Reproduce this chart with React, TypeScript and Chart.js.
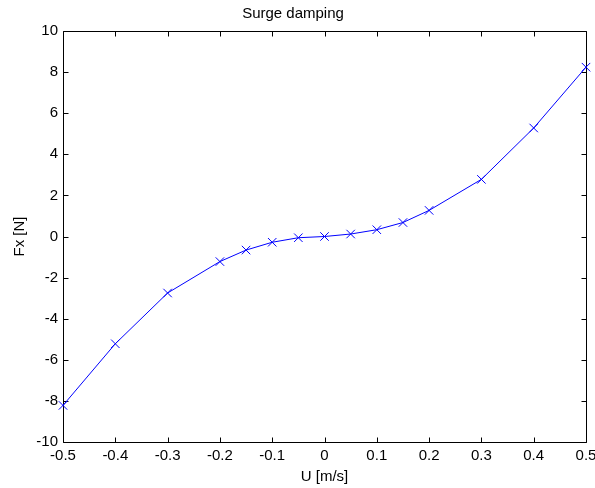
import React, { useEffect, useRef } from "react";
import { Chart, registerables } from "chart.js";

Chart.register(...registerables);

const speeds = [-0.5, -0.4, -0.3, -0.2, -0.15, -0.1, -0.05, 0, 0.05, 0.1, 0.15, 0.2, 0.3, 0.4, 0.5];
const forces = [-8.22, -5.22, -2.75, -1.22, -0.66, -0.28, -0.06, 0, 0.12, 0.33, 0.68, 1.27, 2.78, 5.28, 8.24];
const xTicks = [-0.5, -0.4, -0.3, -0.2, -0.1, 0, 0.1, 0.2, 0.3, 0.4, 0.5];
const yTicks = [-10, -8, -6, -4, -2, 0, 2, 4, 6, 8, 10];
const titleText = "Surge damping";
const xLabel = "U [m/s]";
const yLabel = "Fx [N]";

const FONT = "'Liberation Sans', Arial, sans-serif";

const boxPlugin = {
  id: "matlabBox",
  beforeDatasetsDraw(chart: any) {
    const { ctx, chartArea } = chart;
    const { left, right, top, bottom } = chartArea;
    const xs = chart.scales.x;
    const ys = chart.scales.y;
    const tl = 5;
    ctx.save();
    ctx.strokeStyle = "#000";
    ctx.lineWidth = 1;
    ctx.beginPath();
    const L = Math.round(left) + 0.5;
    const R = Math.round(right) + 0.5;
    const T = Math.round(top) + 0.5;
    const B = Math.round(bottom) + 0.5;
    ctx.rect(L, T, R - L, B - T);
    xTicks.forEach((v) => {
      const px = Math.round(xs.getPixelForValue(v)) + 0.5;
      ctx.moveTo(px, B);
      ctx.lineTo(px, B - tl);
      ctx.moveTo(px, T);
      ctx.lineTo(px, T + tl);
    });
    yTicks.forEach((v) => {
      const py = Math.round(ys.getPixelForValue(v)) + 0.5;
      ctx.moveTo(L, py);
      ctx.lineTo(L + tl, py);
      ctx.moveTo(R, py);
      ctx.lineTo(R - tl, py);
    });
    ctx.stroke();
    ctx.restore();
  },
};

export default function App() {
  const ref = useRef<HTMLCanvasElement>(null);
  useEffect(() => {
    if (!ref.current) return;
    const chart = new Chart(ref.current, {
      type: "line",
      data: {
        datasets: [
          {
            data: speeds.map((u, i) => ({ x: u, y: forces[i] })),
            borderColor: "#0000ff",
            backgroundColor: "#0000ff",
            borderWidth: 1,
            pointStyle: "crossRot",
            pointRadius: 6,
            pointBorderWidth: 1,
            pointBorderColor: "#0000ff",
            tension: 0,
            clip: false as any,
          },
        ],
      },
      options: {
        responsive: false,
        animation: false,
        layout: { padding: { left: 0, right: 9, top: 0, bottom: 0 } },
        plugins: {
          legend: { display: false },
          tooltip: { enabled: false },
          title: {
            display: true,
            text: titleText,
            color: "#000",
            font: { family: FONT, size: 15, weight: "normal", lineHeight: 1.2 },
            padding: { top: 5, bottom: 8 },
          },
        },
        scales: {
          x: {
            type: "linear",
            min: -0.5,
            max: 0.5,
            afterBuildTicks: (s: any) => {
              s.ticks = xTicks.map((v) => ({ value: v }));
            },
            afterFit: (s: any) => {
              s.height = 46;
              s.paddingLeft = 0;
              s.paddingRight = 0;
            },
            grid: { display: false, drawTicks: false },
            border: { display: false },
            ticks: {
              color: "#000",
              padding: 5,
              maxRotation: 0,
              autoSkip: false,
              font: { family: FONT, size: 15 },
              callback: (v: any) => Number(Number(v).toFixed(1)).toString(),
            },
            title: {
              display: true,
              text: xLabel,
              color: "#000",
              font: { family: FONT, size: 15, lineHeight: 1.2 },
              padding: { top: 0, bottom: 2 },
            },
          },
          y: {
            type: "linear",
            min: -10,
            max: 10,
            afterBuildTicks: (s: any) => {
              s.ticks = yTicks.map((v) => ({ value: v }));
            },
            afterFit: (s: any) => {
              s.width = 63;
              s.paddingTop = 0;
              s.paddingBottom = 0;
            },
            grid: { display: false, drawTicks: false },
            border: { display: false },
            ticks: {
              color: "#000",
              padding: 5,
              autoSkip: false,
              font: { family: FONT, size: 15 },
              callback: (v: any) => String(v),
            },
            title: {
              display: true,
              text: yLabel,
              color: "#000",
              font: { family: FONT, size: 15, lineHeight: 1.2 },
              padding: { top: 11, bottom: 0 },
            },
          },
        },
      },
      plugins: [boxPlugin],
    });
    return () => chart.destroy();
  }, []);
  return (
    <div style={{ position: "absolute", left: 0, top: 0, width: 595, height: 488, background: "#fff" }}>
      <canvas ref={ref} width={595} height={488} />
    </div>
  );
}
